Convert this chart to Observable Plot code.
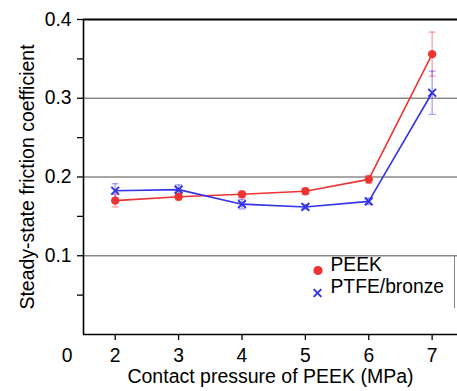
<!DOCTYPE html>
<html><head><meta charset="utf-8">
<script src="https://cdn.jsdelivr.net/npm/d3@7"></script>
<script src="https://cdn.jsdelivr.net/npm/@observablehq/plot@0.6"></script>
<style>
body{margin:0;background:#fff;font-family:"Liberation Sans",Arial,sans-serif}
#wrap{position:relative;width:457px;height:391px}
#legendEdge{position:absolute;left:454px;top:255px;width:0;height:53px;border-left:1.3px solid #888}
</style>
</head><body><div id="wrap"></div>
<script>
const pressures = [2, 3, 4, 5, 6, 7];
const peekMean = [0.170, 0.175, 0.178, 0.182, 0.197, 0.356];
const peekErr  = [0.008, 0.004, 0.004, 0.004, 0.005, 0.028];
const ptfeMean = [0.1825, 0.184, 0.1655, 0.162, 0.169, 0.307];
const ptfeErr  = [0.009, 0.006, 0.006, 0.003, 0.004, 0.0275];
const seriesNames = ["PEEK", "PTFE/bronze"];
const seriesColors = ["#ee3333", "#3434e6"];
const xTicks = [2, 3, 4, 5, 6, 7];
const yMajor = [0.1, 0.2, 0.3, 0.4];
const yMinor = [0.05, 0.15, 0.25, 0.35];
const gridVals = [0.1, 0.2, 0.3];
const xDomain = [1.5, 7.4];
const yDomain = [0, 0.4];

const rows = pressures.flatMap((p, i) => [
  {series: seriesNames[0], x: p, y: peekMean[i], e: peekErr[i]},
  {series: seriesNames[1], x: p, y: ptfeMean[i], e: ptfeErr[i]}
]);
const peekRows = rows.filter(d => d.series === seriesNames[0]);
const ptfeRows = rows.filter(d => d.series === seriesNames[1]);

const cap = {draw(ctx, size) { ctx.moveTo(-3.5, 0); ctx.lineTo(3.5, 0); }};
const FONT = 19.3;
const TITLE = 19.5;

function errorMarks(data, color) {
  return [
    Plot.ruleX(data, {x: "x", y1: d => d.y - d.e, y2: d => d.y + d.e, stroke: color, strokeOpacity: 0.45, strokeWidth: 1.3}),
    Plot.dot(data, {x: "x", y: d => d.y + d.e, symbol: cap, stroke: color, strokeOpacity: 0.45, fill: "none", strokeWidth: 1.3}),
    Plot.dot(data, {x: "x", y: d => d.y - d.e, symbol: cap, stroke: color, strokeOpacity: 0.45, fill: "none", strokeWidth: 1.3})
  ];
}

const chart = Plot.plot({
  width: 457,
  height: 391,
  marginTop: 19,
  marginBottom: 57,
  marginLeft: 83,
  marginRight: 0,
  style: {fontFamily: '"Liberation Sans", Arial, sans-serif', fontSize: FONT + "px", color: "#000", background: "#fff"},
  x: {domain: xDomain},
  y: {domain: yDomain},
  marks: [
    Plot.ruleY(gridVals, {stroke: "#8a8a8a", strokeWidth: 1.3}),
    Plot.ruleY([yDomain[1]], {stroke: "#000", strokeWidth: 2.2}),
    Plot.ruleY([yDomain[0]], {stroke: "#000", strokeWidth: 1.6}),
    Plot.ruleX([xDomain[0]], {stroke: "#000", strokeWidth: 1.6}),
    Plot.axisY({ticks: yMajor, tickSize: 6, tickPadding: 6, tickFormat: d3.format(".1f"), fontSize: FONT, label: null, strokeWidth: 1.3}),
    Plot.axisY({ticks: yMinor, tickSize: 6, tickFormat: () => "", label: null, strokeWidth: 1.3}),
    Plot.axisX({ticks: xTicks, tickSize: 6, tickPadding: 7.5, tickFormat: d3.format("d"), fontSize: FONT, label: null, strokeWidth: 1.3}),
    Plot.text([0], {x: () => xDomain[0], y: () => yDomain[0], text: d => String(d), dx: -11, dy: 21, textAnchor: "end", fontSize: FONT}),
    Plot.text(["Steady-state friction coefficient"], {frameAnchor: "left", rotate: -90, dx: -56, fontSize: TITLE, textAnchor: "middle"}),
    Plot.text(["Contact pressure of PEEK (MPa)"], {frameAnchor: "bottom", dy: 48, fontSize: TITLE, textAnchor: "middle"}),
    ...errorMarks(peekRows, seriesColors[0]),
    ...errorMarks(ptfeRows, seriesColors[1]),
    Plot.line(peekRows, {x: "x", y: "y", stroke: seriesColors[0], strokeWidth: 1.6}),
    Plot.line(ptfeRows, {x: "x", y: "y", stroke: seriesColors[1], strokeWidth: 1.6}),
    Plot.dot(peekRows, {x: "x", y: "y", r: 4.2, fill: seriesColors[0], stroke: "none"}),
    Plot.dot(ptfeRows, {x: "x", y: "y", r: 3.6, symbol: "times", stroke: seriesColors[1], strokeWidth: 2}),
    // legend
    Plot.dot([seriesNames[0]], {frameAnchor: "bottom-right", dx: -139.5, dy: -64, r: 4.6, fill: seriesColors[0], stroke: "none"}),
    Plot.dot([seriesNames[1]], {frameAnchor: "bottom-right", dx: -140, dy: -41.5, r: 3.6, symbol: "times", stroke: seriesColors[1], strokeWidth: 2}),
    Plot.text([seriesNames[0]], {frameAnchor: "bottom-right", dx: -127, dy: -64, text: d => d, textAnchor: "start", fontSize: FONT}),
    Plot.text([seriesNames[1]], {frameAnchor: "bottom-right", dx: -127, dy: -41.5, text: d => d, textAnchor: "start", fontSize: FONT})
  ]
});
const wrap = document.getElementById("wrap");
wrap.appendChild(chart);
const edge = document.createElement("div");
edge.id = "legendEdge";
wrap.appendChild(edge);
</script>
</body></html>
